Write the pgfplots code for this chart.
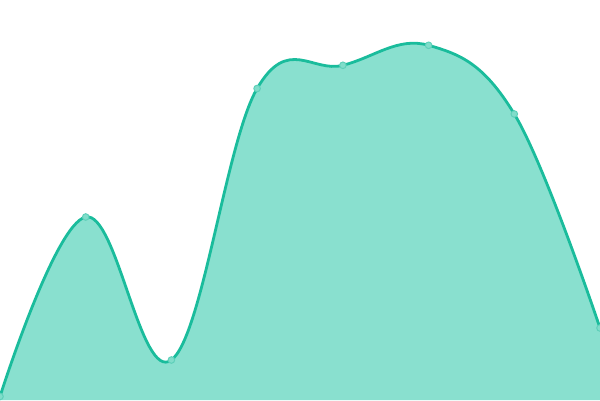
\documentclass[border=0pt]{standalone}
\usepackage{pgfplots}
\pgfplotsset{compat=1.18}
\definecolor{lineclr}{HTML}{1ABC9C}
\definecolor{fillclr}{HTML}{89E0CF}
\definecolor{markclr}{HTML}{80DDCA}
\begin{document}
\begin{tikzpicture}
	\begin{axis}[
		% no visible axes, the area fills the whole picture
		scale only axis,
		width=600bp,
		height=400bp,
		hide axis,
		xmin=0, xmax=600,
		ymin=0, ymax=400,
		clip=true,
		]
		
		% filled area under the smooth curve
		\addplot[draw=none, fill=fillclr, smooth, tension=0.65] coordinates {
			(0,3.5) (85.7,183) (171.4,40) (257.1,311.5) (342.9,334.7) (428.6,354.7) (514.3,286) (600,72)
		} \closedcycle;
		
		% the line with its points
		\addplot[lineclr, line width=2.8bp, smooth, tension=0.65,
			mark=*, mark size=3.3bp,
			mark options={fill=markclr, draw=lineclr!70!white, line width=1bp}] coordinates {
			(0,3.5) (85.7,183) (171.4,40) (257.1,311.5) (342.9,334.7) (428.6,354.7) (514.3,286) (600,72)
		};
	\end{axis}
	% keep the page the size of the axis box
	\pgfresetboundingbox
	\path[use as bounding box] (current axis.south west) rectangle (current axis.north east);
\end{tikzpicture}
\end{document}
